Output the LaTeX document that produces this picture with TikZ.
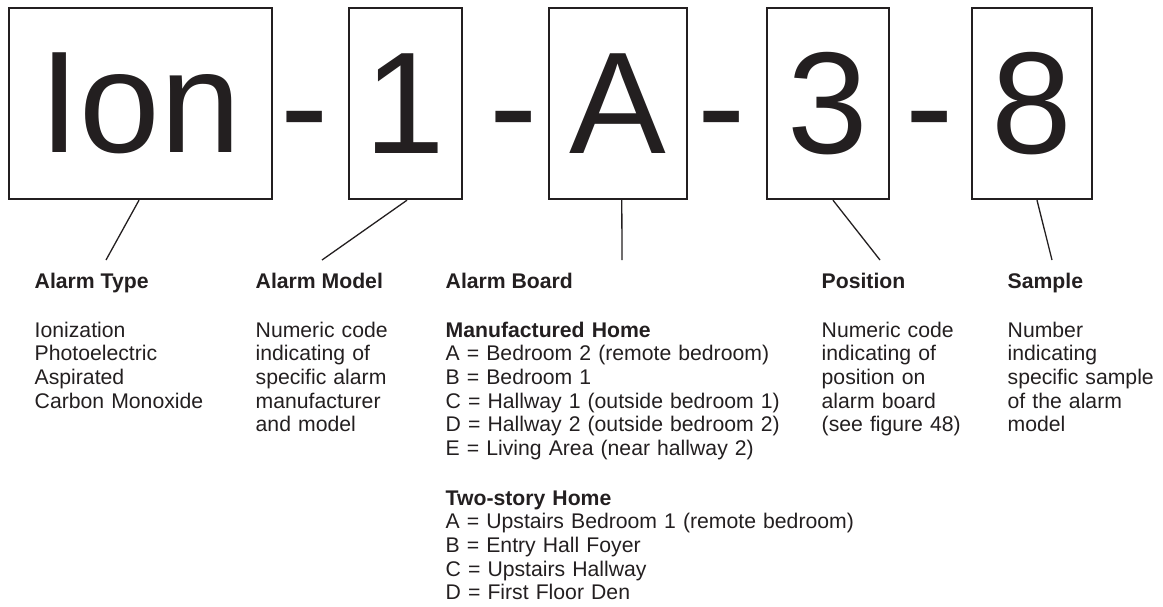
\documentclass[tikz,border=0pt]{standalone}
\usepackage{fontspec}
\setmainfont{Liberation Sans}
\definecolor{ink}{HTML}{231F20}
\hyphenpenalty=10000
\begin{document}
\begin{tikzpicture}[x=1pt,y=-1pt,
  box/.style={draw=ink, line width=2pt, inner sep=0pt, text=ink,
    font=\fontsize{145}{150}\selectfont},
  sepchar/.style={text=ink, inner sep=0pt, anchor=base,
    font=\fontsize{145}{150}\selectfont},
  lead/.style={draw=ink, line width=1.3pt},
  head/.style={anchor=base west, inner sep=0pt, text=ink,
    font=\fontsize{21.2}{23.6}\selectfont\bfseries},
  body/.style={anchor=base west, inner sep=0pt, text=ink, align=left,
    text width=600pt, font=\fontsize{21.2}{23.6}\selectfont}]
\useasboundingbox (0,0) rectangle (1163,606);
% code boxes
\node[box, minimum width=263pt, minimum height=191pt] (b1) at (140,103.7) {Ion};
\node[box, minimum width=113.3pt, minimum height=191pt] (b2) at (405.3,103.7) {1};
\node[box, minimum width=138pt, minimum height=191pt] (b3) at (618.3,103.7) {A};
\node[box, minimum width=121.4pt, minimum height=191pt] (b4) at (828,103.7) {3};
\node[box, minimum width=119.4pt, minimum height=191pt] (b5) at (1032,103.7) {8};
% separators
\node[sepchar] (d1) at (305,155) {-};
\node[sepchar] (d2) at (514,155) {-};
\node[sepchar] (d3) at (722,155) {-};
\node[sepchar] (d4) at (930,155) {-};
% leader lines
\coordinate (e1) at (106,260);
\coordinate (e2) at (322,260);
\coordinate (e3) at (622,260);
\coordinate (e4) at (880,260);
\coordinate (e5) at (1052,260);
\draw[lead] ([xshift=-1pt]b1.south) -- (e1);
\draw[lead] ([xshift=1.7pt]b2.south) -- (e2);
\draw[lead] ([xshift=3.5pt]b3.south) -- (e3);
\draw[lead] ([xshift=5pt]b4.south) -- (e4);
\draw[lead] ([xshift=5pt]b5.south) -- (e5);
% column headings
\node[head] (h1) at (34.5,288) {Alarm Type};
\node[head] (h2) at (255.5,288) {Alarm Model};
\node[head] (h3) at (445.5,288) {Alarm Board};
\node[head] (h4) at (821.5,288) {Position};
\node[head] (h5) at (1007.5,288) {Sample};
% column bodies
\node[body] (t1) at (34.5,337.3) {Ionization\\Photoelectric\\Aspirated\\Carbon Monoxide};
\node[body] (t2) at (255.5,337.3) {Numeric code\\indicating of\\specific alarm\\manufacturer\\and model};
\node[body] (t3) at (445.5,337.3) {\textbf{Manufactured Home}\\A = Bedroom 2 (remote bedroom)\\B = Bedroom 1\\C = Hallway 1 (outside bedroom 1)\\D = Hallway 2 (outside bedroom 2)\\E = Living Area (near hallway 2)};
\node[body] (t3b) at (445.5,505.3) {\textbf{Two-story Home}\\A = Upstairs Bedroom 1 (remote bedroom)\\B = Entry Hall Foyer\\C = Upstairs Hallway\\D = First Floor Den};
\node[body] (t4) at (821.5,337.3) {Numeric code\\indicating of\\position on\\alarm board\\(see figure 48)};
\node[body] (t5) at (1007.5,337.3) {Number\\indicating\\specific sample\\of the alarm\\model};
\end{tikzpicture}
\end{document}
